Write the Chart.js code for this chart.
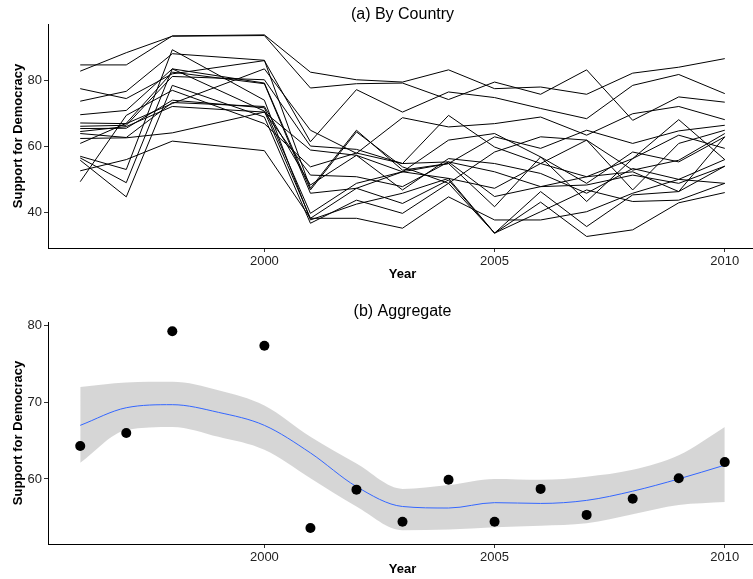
<!DOCTYPE html>
<html>
<head>
<meta charset="utf-8">
<script src="https://cdn.jsdelivr.net/npm/chart.js@4/dist/chart.umd.min.js"></script>
<style>
  html, body { margin: 0; padding: 0; background: #fff; overflow: hidden; }
  .panel { position: relative; width: 757px; }
  canvas { display: block; }
</style>
</head>
<body>
<div class="panel" style="height:290px"><canvas id="by-country"></canvas></div>
<div class="panel" style="height:289px"><canvas id="aggregate"></canvas></div>
<script>
// Survey years (no wave in 1999)
const years = [1996, 1997, 1998, 2000, 2001, 2002, 2003, 2004, 2005, 2006, 2007, 2008, 2009, 2010];

// Support for democracy by country, one array per country
const c01 = [84.7, 84.7, 93.5, 93.8, 82.5, 80.2, 79.5, 83.2, 77.5, 78.0, 75.8, 82.2, 84.0, 86.6];
const c02 = [82.8, 88.4, 93.4, 93.6, 77.7, 79.0, 79.2, 74.2, 79.5, 75.8, 83.2, 67.9, 75.0, 73.4];
const c03 = [77.5, 74.5, 82.0, 86.0, 61.4, 77.2, 70.4, 76.5, 74.8, 71.5, 68.4, 78.5, 81.8, 76.0];
const c04 = [73.7, 76.7, 88.1, 86.1, 47.3, 64.9, 52.8, 54.8, 62.9, 59.4, 64.9, 60.9, 64.7, 66.4];
const c05 = [69.6, 70.9, 83.5, 79.2, 46.8, 64.4, 53.8, 48.8, 58.3, 62.9, 61.9, 52.8, 55.8, 63.9];
const c06 = [67.1, 66.9, 73.0, 83.5, 64.9, 57.9, 68.7, 65.9, 66.9, 68.9, 63.4, 69.9, 72.1, 68.1];
const c07 = [66.1, 66.4, 81.2, 80.2, 60.1, 59.1, 54.8, 69.4, 59.8, 54.8, 50.8, 56.3, 63.4, 59.4];
const c08 = [65.4, 65.5, 74.0, 71.7, 39.7, 48.8, 52.3, 61.9, 63.9, 56.8, 48.8, 58.3, 55.3, 62.9];
const c09 = [63.9, 62.7, 73.3, 72.1, 48.3, 57.3, 46.8, 56.3, 54.8, 51.8, 45.8, 53.3, 50.0, 56.0];
const c10 = [62.4, 62.6, 64.1, 70.4, 51.3, 50.8, 47.8, 55.3, 52.3, 47.8, 48.3, 51.3, 48.8, 54.0];
const c11 = [60.9, 67.0, 82.5, 79.0, 45.8, 47.3, 52.3, 50.3, 47.3, 54.8, 61.9, 46.8, 60.9, 64.9];
const c12 = [57.0, 53.0, 89.3, 74.0, 37.7, 42.5, 45.8, 50.3, 33.7, 40.2, 46.8, 43.3, 43.7, 48.8];
const c13 = [56.5, 49.0, 83.5, 70.7, 38.2, 47.3, 42.7, 49.8, 33.7, 46.3, 35.7, 45.3, 46.3, 54.0];
const c14 = [55.8, 44.7, 78.5, 68.9, 36.7, 43.7, 39.7, 48.8, 33.7, 43.1, 32.7, 34.7, 42.9, 46.0];
const c15 = [52.6, 56.0, 61.6, 58.7, 38.2, 38.2, 35.2, 44.7, 37.7, 37.7, 40.2, 45.8, 50.0, 48.8];
const c16 = [49.3, 69.4, 77.0, 66.9, 53.8, 58.0, 54.8, 55.3, 44.8, 47.8, 50.8, 52.3, 46.3, 62.9];
const c17 = [64.5, 66.0, 72.1, 70.4, 58.9, 57.3, 52.3, 54.8, 41.7, 56.8, 43.3, 56.3, 68.1, 56.0];
const countrySeries = [c01, c02, c03, c04, c05, c06, c07, c08, c09, c10, c11, c12, c13, c14, c15, c16, c17];

// Aggregate support per year
const aggregate = [64.3, 66.0, 79.3, 77.4, 53.6, 58.6, 54.4, 59.9, 54.4, 58.7, 55.3, 57.4, 60.1, 62.2];

// Loess fit and its confidence band
const smoothYears = [1996, 1997, 1998, 1999, 2000, 2001, 2002, 2003, 2004, 2005, 2006, 2007, 2008, 2009, 2010];
const smoothFit   = [67.0, 69.3, 69.7, 68.7, 67.0, 63.4, 59.0, 56.4, 56.2, 56.9, 56.8, 57.2, 58.4, 60.0, 61.8];
const smoothUpper = [72.0, 72.6, 72.7, 71.6, 69.6, 65.5, 62.0, 58.7, 59.2, 60.0, 59.9, 60.3, 61.2, 63.1, 66.8];
const smoothLower = [62.1, 66.4, 66.8, 65.5, 63.8, 60.1, 56.4, 53.3, 53.4, 53.7, 53.9, 54.2, 55.4, 56.6, 57.0];

// Tick labels
const yearTicks = [2000, 2005, 2010];
const countryTicks = [40, 60, 80];
const aggregateTicks = [60, 70, 80];

const FONT = "'Liberation Sans', Arial, sans-serif";
Chart.defaults.font.family = FONT;
Chart.defaults.color = "#222";

const toPoints = (xs, ys) => xs.map((x, i) => ({ x: x, y: ys[i] }));

// Panel title centred over the plotting area
const panelTitle = {
  id: "panelTitle",
  afterDraw(chart, args, opts) {
    const { ctx, chartArea } = chart;
    ctx.save();
    ctx.font = "16px " + FONT;
    ctx.fillStyle = "#000";
    ctx.textAlign = "center";
    ctx.textBaseline = "middle";
    ctx.fillText(opts.text, (chartArea.left + chartArea.right) / 2, opts.y);
    ctx.restore();
  },
};

function axisOptions(tickValues, min, max, axisHeight, titlePad) {
  const common = {
    type: "linear",
    grid: { display: true, drawOnChartArea: false, tickLength: 4, color: "#333", lineWidth: 1 },
    border: { display: true, color: "#000", width: 1 },
    ticks: { font: { size: 13 }, color: "#222", padding: 2, callback: (v) => String(v) },
  };
  return {
    x: {
      ...common,
      min: 1995.3,
      max: 2010.7,
      afterBuildTicks: (s) => { s.ticks = yearTicks.map((v) => ({ value: v })); },
      afterFit: (s) => { s.height = axisHeight; },
      title: { display: true, text: "Year", font: { size: 13, weight: "bold" }, color: "#000", padding: { top: 0, bottom: titlePad } },
    },
    y: {
      ...common,
      min: min,
      max: max,
      afterBuildTicks: (s) => { s.ticks = tickValues.map((v) => ({ value: v })); },
      afterFit: (s) => { s.width = 48; },
      title: { display: true, text: "Support for Democracy", font: { size: 13, weight: "bold" }, color: "#000", padding: { top: 11, bottom: 0 } },
    },
  };
}

function initCountryChart() {
  const ctx = document.getElementById("by-country").getContext("2d");
  return new Chart(ctx, {
    type: "line",
    data: {
      datasets: countrySeries.map((s) => ({
        data: toPoints(years, s),
        borderColor: "#000",
        borderWidth: 1,
        pointRadius: 0,
        fill: false,
        tension: 0,
      })),
    },
    options: {
      responsive: true,
      maintainAspectRatio: false,
      animation: false,
      layout: { autoPadding: false, padding: { top: 24, right: 0, left: 0, bottom: 0 } },
      plugins: {
        legend: { display: false },
        tooltip: { enabled: false },
        panelTitle: { text: "(a) By Country", y: 15 },
      },
      scales: axisOptions(countryTicks, 29.2, 97.1, 42, 8),
    },
    plugins: [panelTitle],
  });
}

function initAggregateChart() {
  const ctx = document.getElementById("aggregate").getContext("2d");
  return new Chart(ctx, {
    type: "line",
    data: {
      datasets: [
        {
          data: toPoints(smoothYears, smoothLower),
          borderWidth: 0,
          pointRadius: 0,
          fill: false,
          cubicInterpolationMode: "monotone",
          order: 3,
        },
        {
          data: toPoints(smoothYears, smoothUpper),
          borderWidth: 0,
          pointRadius: 0,
          backgroundColor: "rgba(153,153,153,0.4)",
          fill: "-1",
          cubicInterpolationMode: "monotone",
          order: 3,
        },
        {
          data: toPoints(smoothYears, smoothFit),
          borderColor: "#3366FF",
          borderWidth: 1,
          pointRadius: 0,
          fill: false,
          cubicInterpolationMode: "monotone",
          order: 2,
        },
        {
          data: toPoints(years, aggregate),
          showLine: false,
          pointRadius: 5,
          pointBackgroundColor: "#000",
          pointBorderColor: "#000",
          pointBorderWidth: 0,
          order: 1,
        },
      ],
    },
    options: {
      responsive: true,
      maintainAspectRatio: false,
      animation: false,
      layout: { autoPadding: false, padding: { top: 32, right: 0, left: 0, bottom: 0 } },
      plugins: {
        legend: { display: false },
        tooltip: { enabled: false },
        filler: { propagate: false },
        panelTitle: { text: "(b) Aggregate", y: 22 },
      },
      scales: axisOptions(aggregateTicks, 51.5, 80.5, 35, 2),
    },
    plugins: [panelTitle],
  });
}

initCountryChart();
initAggregateChart();
</script>
</body>
</html>
